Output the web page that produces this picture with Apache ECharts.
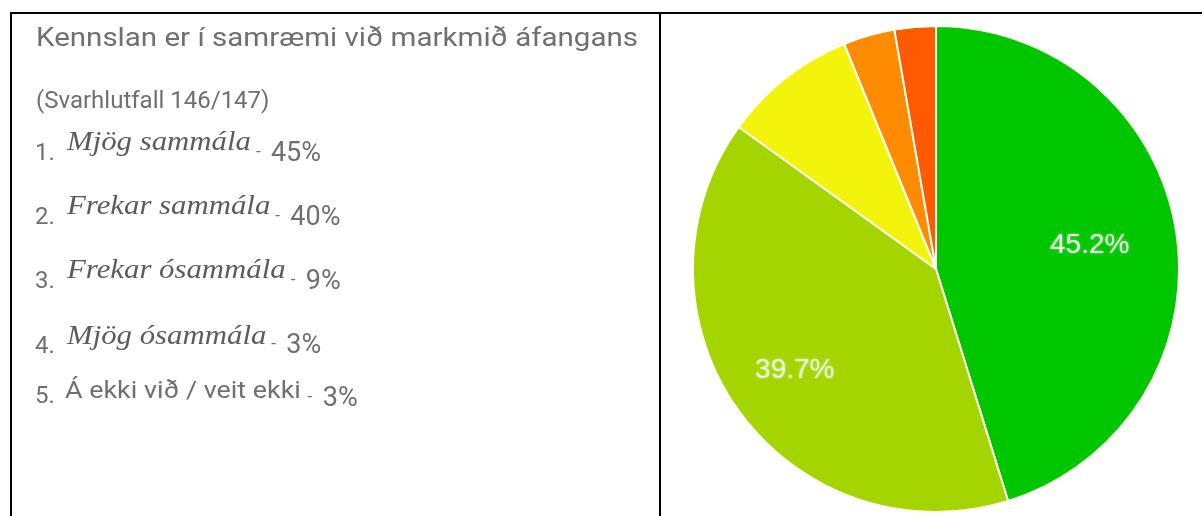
<!DOCTYPE html>
<html>
<head>
<meta charset="utf-8">
<script src="https://cdn.jsdelivr.net/npm/echarts@6/dist/echarts.min.js"></script>
<style>
html,body{margin:0;padding:0;background:#fff;}
#chart{width:1202px;height:516px;}
</style>
</head>
<body>
<div id="chart"></div>
<script>
const titleLine = 'Kennslan er í samræmi við markmið áfangans';
const responseLine = '(Svarhlutfall 146/147)';
const categories = ['Mjög sammála', 'Frekar sammála', 'Frekar ósammála', 'Mjög ósammála', 'Á ekki við / veit ekki'];
const categoryItalic = [true, true, true, true, false];
const listPercents = ['45%', '40%', '9%', '3%', '3%'];
const counts = [66, 58, 13, 5, 4];
const sliceColors = ['#00c600', '#a4d500', '#f3f30c', '#ff8c00', '#ff5a00'];
const labelSlices = [0, 1];

const total = counts.reduce((a, b) => a + b, 0);
const pieData = categories.map((c, i) => ({ name: c, value: counts[i], itemStyle: { color: sliceColors[i] } }));

const chart = echarts.init(document.getElementById('chart'), null, { renderer: 'canvas' });

const measureCtx = document.createElement('canvas').getContext('2d');
function measure(text, font) { measureCtx.font = font; return measureCtx.measureText(text).width; }

const gray = '#707070';
const graphics = [];
graphics.push({ type: 'line', shape: { x1: 10, y1: 13, x2: 1202, y2: 13 }, style: { stroke: '#000', lineWidth: 2 } });
graphics.push({ type: 'line', shape: { x1: 11, y1: 12, x2: 11, y2: 516 }, style: { stroke: '#000', lineWidth: 2 } });
graphics.push({ type: 'line', shape: { x1: 660, y1: 12, x2: 660, y2: 516 }, style: { stroke: '#000', lineWidth: 2 } });

function txt(text, x, baseline, size, family, opts) {
  opts = opts || {};
  const font = (opts.italic ? 'italic ' : '') + size + 'px ' + family;
  graphics.push({
    type: 'text', x: x, y: baseline - 0.34 * size + 3, scaleX: opts.scaleX || 1,
    style: { text: text, fill: opts.fill || gray, font: font, verticalAlign: 'middle', align: 'left' }
  });
  return measure(text, font) * (opts.scaleX || 1);
}

const titleFont = '26px Roboto';
txt(titleLine, 36, 45, 26, 'Roboto', { scaleX: 602 / measure(titleLine, titleFont) });
txt(responseLine, 36, 107, 24, 'Roboto');

const rowBase = [159, 223, 287, 352, 402];
const catBase = [149, 213, 277, 343, 397];
const pctBase = [160, 224, 288, 352, 405];
const catX = 67;
categories.forEach((c, i) => {
  txt((i + 1) + '.', 35, rowBase[i], 24, 'Roboto');
  let cw;
  if (categoryItalic[i]) {
    cw = txt(c, catX, catBase[i], 28, '"Liberation Serif"', { italic: true, scaleX: 1.1, fill: '#5c5c5c' });
  } else {
    cw = txt(c, catX - 2, catBase[i], 24, 'Roboto', { scaleX: 1.12 });
  }
  const endX = catX + cw;
  txt('-', endX + 5, pctBase[i] - 4, 17, 'Roboto');
  txt(listPercents[i], endX + 20, pctBase[i], 27, 'Roboto');
});

function labelSeries(idx, outerR) {
  return {
    type: 'pie', silent: true, z: 5,
    center: [936, 269], radius: [0, outerR], startAngle: 90, clockwise: true,
    avoidLabelOverlap: false,
    itemStyle: { color: 'rgba(0,0,0,0)', borderWidth: 0 },
    labelLine: { show: false },
    emphasis: { disabled: true },
    label: {
      show: true, position: 'inside',
      formatter: p => p.dataIndex === idx ? (p.value / total * 100).toFixed(1) + '%' : '',
      color: '#e8ffe2', fontSize: 28, fontFamily: 'Liberation Sans',
      textShadowColor: 'rgba(255,255,255,0.5)', textShadowBlur: 3
    },
    data: categories.map((c, i) => ({ name: c, value: counts[i] }))
  };
}

chart.setOption({
  animation: false,
  graphic: graphics,
  series: [
    {
      type: 'pie', silent: true,
      center: [936, 269], radius: [0, 243], startAngle: 90, clockwise: true,
      label: { show: false }, labelLine: { show: false },
      itemStyle: { borderColor: '#fffff2', borderWidth: 2 },
      data: pieData
    },
    labelSeries(labelSlices[0], 305),
    labelSeries(labelSlices[1], 342)
  ]
});
</script>
</body>
</html>
